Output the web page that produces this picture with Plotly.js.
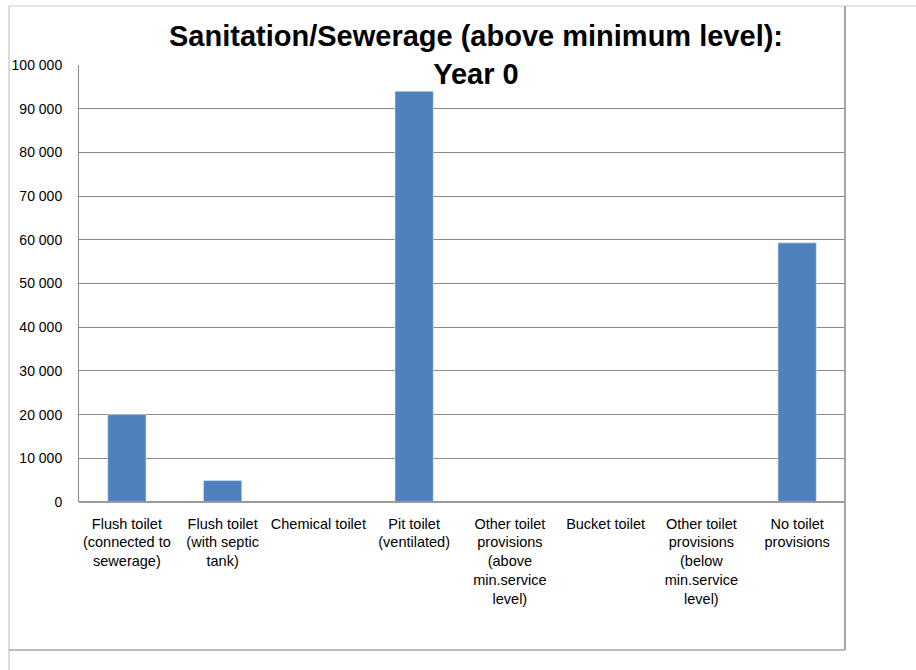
<!DOCTYPE html>
<html>
<head>
<meta charset="utf-8">
<script src="https://cdn.plot.ly/plotly-3.0.1.min.js"></script>
<style>
  html, body { margin: 0; padding: 0; background: #fff; }
  #chart { width: 916px; height: 670px; }
</style>
</head>
<body>
<div id="chart"></div>
<script>
const categories = [
  "Flush toilet<br>(connected to<br>sewerage)",
  "Flush toilet<br>(with septic<br>tank)",
  "Chemical toilet",
  "Pit toilet<br>(ventilated)",
  "Other toilet<br>provisions<br>(above<br>min.service<br>level)",
  "Bucket toilet",
  "Other toilet<br>provisions<br>(below<br>min.service<br>level)",
  "No toilet<br>provisions"
];
const households = [20000, 4900, 0, 94000, 0, 0, 0, 59300];
const titleText = "Sanitation/Sewerage (above minimum level):<br>Year 0";

const trace = {
  type: 'bar',
  x: categories,
  y: households,
  width: 0.4,
  marker: { color: '#4f81bd', line: { color: '#dbe5f1', width: 0.6 } },
  hoverinfo: 'x+y'
};

// pixel -> paper helpers for the outer chart frame
const L = 79, R = 845, T = 65, B = 502;
const px = v => (v - L) / (R - L);
const py = v => (B - v) / (B - T);

const sans = '"Liberation Sans", Arial, sans-serif';

const layout = {
  width: 916,
  height: 670,
  margin: { l: L, r: 916 - R, t: T, b: 670 - B, pad: 0 },
  paper_bgcolor: '#ffffff',
  plot_bgcolor: '#ffffff',
  separators: ', ',
  showlegend: false,
  font: { family: sans, size: 14, color: '#000000' },
  title: {
    text: titleText,
    font: { family: sans, size: 29, color: '#000000', weight: 'bold' },
    xref: 'container', yref: 'container',
    x: 476 / 916, xanchor: 'center',
    y: 1 - 46 / 670, yanchor: 'top'
  },
  xaxis: {
    type: 'category',
    showgrid: false,
    showline: false,
    ticks: '',
    tickangle: 0,
    tickfont: { family: sans, size: 14.5, color: '#000000' },
    ticklabelstandoff: 11,
    fixedrange: true
  },
  yaxis: {
    range: [0, 100000],
    dtick: 10000,
    tickformat: ',d',
    showgrid: true,
    gridcolor: '#8a8a8a',
    gridwidth: 1,
    zeroline: false,
    showline: true,
    linecolor: '#8a8a8a',
    linewidth: 1,
    ticks: '',
    tickfont: { family: sans, size: 14, color: '#000000' },
    ticklabelstandoff: 13,
    fixedrange: true
  },
  shapes: [
    // baseline (category axis)
    { type: 'line', xref: 'paper', yref: 'paper', x0: 0, x1: 1, y0: 0, y1: 0,
      line: { color: '#9a9a9a', width: 2 } },
    // outer chart frame
    { type: 'line', xref: 'paper', yref: 'paper', x0: px(9), x1: px(916), y0: py(6), y1: py(6),
      line: { color: '#dcdcdc', width: 1.5 } },
    { type: 'line', xref: 'paper', yref: 'paper', x0: px(9), x1: px(9), y0: py(6), y1: py(670),
      line: { color: '#cfcfcf', width: 1.5 } },
    { type: 'line', xref: 'paper', yref: 'paper', x0: px(9), x1: px(845), y0: py(650), y1: py(650),
      line: { color: '#a6a6a6', width: 1.5 } },
    { type: 'line', xref: 'paper', yref: 'paper', x0: 1, x1: 1, y0: py(6), y1: py(650),
      line: { color: '#a6a6a6', width: 2 } }
  ],
  bargap: 0.6
};

Plotly.newPlot('chart', [trace], layout, { displayModeBar: false, staticPlot: true });
</script>
</body>
</html>
